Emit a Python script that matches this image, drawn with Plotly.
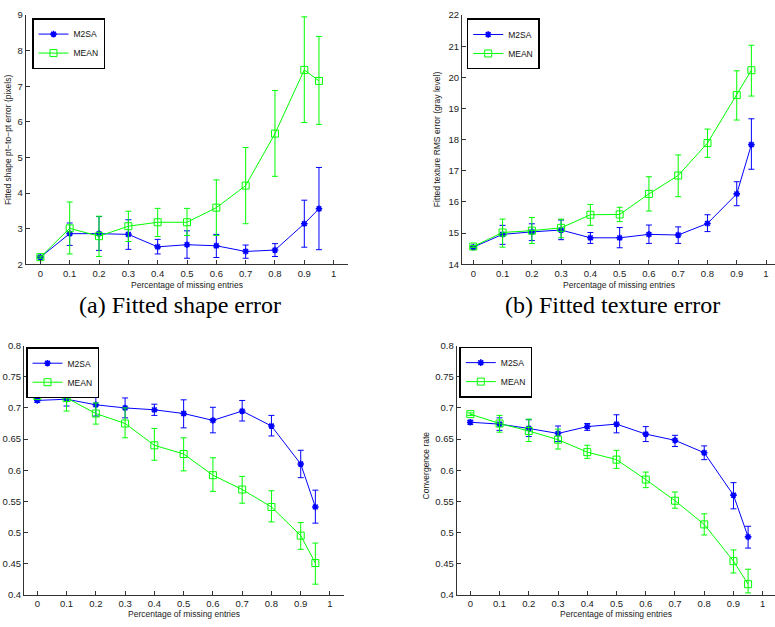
import plotly.graph_objects as go

W, H = 775, 627

x_vals = [0, 0.1, 0.2, 0.3, 0.4, 0.5, 0.6, 0.7, 0.8, 0.9, 0.95]

# (a) Fitted shape error
a_m2sa = [2.20, 2.86, 2.86, 2.84, 2.49, 2.55, 2.52, 2.36, 2.40, 3.14, 3.56]
a_m2sa_hi = [2.23, 3.16, 3.34, 3.25, 2.70, 2.94, 2.84, 2.54, 2.58, 3.80, 4.72]
a_m2sa_lo = [2.17, 2.53, 2.39, 2.42, 2.29, 2.17, 2.19, 2.17, 2.22, 2.48, 2.41]
a_mean = [2.20, 3.01, 2.79, 3.07, 3.18, 3.18, 3.59, 4.21, 5.67, 7.46, 7.15]
a_mean_hi = [2.23, 3.75, 3.35, 3.49, 3.57, 3.57, 4.37, 5.28, 6.88, 8.95, 8.40]
a_mean_lo = [2.17, 2.29, 2.22, 2.64, 2.78, 2.81, 2.81, 3.14, 4.47, 5.98, 5.93]

# (b) Fitted texture error
b_m2sa = [14.55, 14.96, 15.04, 15.10, 14.85, 14.85, 14.96, 14.94, 15.31, 16.26, 17.84]
b_m2sa_hi = [14.58, 15.25, 15.30, 15.42, 15.02, 15.18, 15.26, 15.20, 15.59, 16.65, 18.67]
b_m2sa_lo = [14.52, 14.64, 14.76, 14.79, 14.67, 14.53, 14.67, 14.67, 15.05, 15.88, 17.05]
b_mean = [14.57, 15.02, 15.08, 15.17, 15.59, 15.60, 16.26, 16.85, 17.89, 19.43, 20.23]
b_mean_hi = [14.60, 15.45, 15.50, 15.45, 15.92, 15.83, 16.81, 17.51, 18.34, 20.21, 21.03]
b_mean_lo = [14.54, 14.55, 14.67, 14.85, 15.25, 15.37, 15.71, 16.17, 17.43, 18.63, 19.40]

# (c) third panel (no y title)
c_m2sa = [0.712, 0.714, 0.705, 0.700, 0.697, 0.691, 0.680, 0.695, 0.671, 0.610, 0.541]
c_m2sa_hi = [0.715, 0.724, 0.725, 0.716, 0.706, 0.713, 0.701, 0.712, 0.688, 0.632, 0.568]
c_m2sa_lo = [0.709, 0.703, 0.687, 0.684, 0.688, 0.668, 0.660, 0.679, 0.655, 0.588, 0.515]
c_mean = [0.719, 0.716, 0.691, 0.675, 0.640, 0.626, 0.592, 0.569, 0.541, 0.495, 0.451]
c_mean_hi = [0.721, 0.734, 0.708, 0.700, 0.667, 0.652, 0.620, 0.590, 0.567, 0.516, 0.483]
c_mean_lo = [0.717, 0.695, 0.674, 0.652, 0.616, 0.599, 0.566, 0.547, 0.517, 0.473, 0.417]

# (d) Convergence rate
d_m2sa = [0.677, 0.674, 0.667, 0.659, 0.670, 0.674, 0.658, 0.648, 0.628, 0.560, 0.493]
d_m2sa_hi = [0.680, 0.684, 0.681, 0.671, 0.675, 0.689, 0.670, 0.656, 0.639, 0.580, 0.510]
d_m2sa_lo = [0.674, 0.664, 0.654, 0.646, 0.664, 0.660, 0.646, 0.638, 0.617, 0.538, 0.475]
d_mean = [0.690, 0.675, 0.663, 0.649, 0.629, 0.617, 0.585, 0.551, 0.513, 0.454, 0.417]
d_mean_hi = [0.692, 0.688, 0.682, 0.666, 0.640, 0.632, 0.597, 0.565, 0.530, 0.472, 0.441]
d_mean_lo = [0.688, 0.661, 0.646, 0.634, 0.619, 0.603, 0.572, 0.539, 0.496, 0.435, 0.403]

names = ["M2SA", "MEAN"]
colors = ["#0000ff", "#00ff00"]
x_title = "Percentage of missing entries"
x_ticks = [0, 0.1, 0.2, 0.3, 0.4, 0.5, 0.6, 0.7, 0.8, 0.9, 1]
x_ticklabels = ["0", "0.1", "0.2", "0.3", "0.4", "0.5", "0.6", "0.7", "0.8", "0.9", "1"]

panels = [
    dict(px=(25.7, 348.3), py=(9.2, 262.9), xr=[-0.05, 1.05], yr=[2, 9],
         yt=[2, 3, 4, 5, 6, 7, 8, 9], ytl=["2", "3", "4", "5", "6", "7", "8", "9"],
         data=[(a_m2sa, a_m2sa_hi, a_m2sa_lo), (a_mean, a_mean_hi, a_mean_lo)],
         ytitle="Fitted shape pt\u2212to\u2212pt error (pixels)", ytx=7.5, yty=136,
         xtitle_y=284, leg=(32, 12.3)),
    dict(px=(462, 775), py=(9.2, 262.9), xr=[-0.0386, 1.0307], yr=[14, 22],
         yt=list(range(14, 23)), ytl=[str(v) for v in range(14, 23)],
         data=[(b_m2sa, b_m2sa_hi, b_m2sa_lo), (b_mean, b_mean_hi, b_mean_lo)],
         ytitle="Fitted texture RMS error (gray level)", ytx=436.7, yty=136,
         xtitle_y=284, leg=(466.7, 12.7)),
    dict(px=(24, 344.3), py=(345.7, 599.3), xr=[-0.0454, 1.0489], yr=[0.4, 0.8],
         yt=[0.4, 0.45, 0.5, 0.55, 0.6, 0.65, 0.7, 0.75, 0.8],
         ytl=["0.4", "0.45", "0.5", "0.55", "0.6", "0.65", "0.7", "0.75", "0.8"],
         data=[(c_m2sa, c_m2sa_hi, c_m2sa_lo), (c_mean, c_mean_hi, c_mean_lo)],
         ytitle=None, ytx=None, yty=None,
         xtitle_y=619, leg=(26, 347.3)),
    dict(px=(456.7, 775), py=(345.7, 599.3), xr=[-0.0465, 1.042], yr=[0.4, 0.8],
         yt=[0.4, 0.45, 0.5, 0.55, 0.6, 0.65, 0.7, 0.75, 0.8],
         ytl=["0.4", "0.45", "0.5", "0.55", "0.6", "0.65", "0.7", "0.75", "0.8"],
         data=[(d_m2sa, d_m2sa_hi, d_m2sa_lo), (d_mean, d_mean_hi, d_mean_lo)],
         ytitle="Convergence rate", ytx=425.7, yty=468,
         xtitle_y=619, leg=(459.3, 346.7)),
]

captions = [("(a) Fitted shape error", 180, 304), ("(b) Fitted texture error", 612, 304)]

fig = go.Figure()
layout = dict(width=W, height=H, margin=dict(l=0, r=0, t=0, b=0),
              paper_bgcolor="white", plot_bgcolor="white", showlegend=True,
              font=dict(family="Liberation Sans, Arial, sans-serif", size=9.5, color="#222"))
annotations = []
tick_font = dict(family="Liberation Sans, Arial, sans-serif", size=9.5, color="#222")

for i, p in enumerate(panels):
    k = "" if i == 0 else str(i + 1)
    xa, ya = "x" + k, "y" + k
    legname = "legend" + k
    for j in range(2):
        yv, hi, lo = p["data"][j]
        plus = [h - v for h, v in zip(hi, yv)]
        minus = [v - l for v, l in zip(yv, lo)]
        if j == 0:
            marker = dict(symbol="asterisk-open", size=5.5, color=colors[j],
                          line=dict(color=colors[j], width=1.6))
        else:
            marker = dict(symbol="square-open", size=7, color=colors[j],
                          line=dict(color=colors[j], width=1))
        fig.add_trace(go.Scatter(
            x=x_vals, y=yv, mode="lines+markers", name=names[j],
            line=dict(color=colors[j], width=1), marker=marker,
            error_y=dict(type="data", symmetric=False, array=plus, arrayminus=minus,
                         color=colors[j], thickness=1, width=3),
            xaxis=xa, yaxis=ya, legend=legname, showlegend=True))
    axcommon = dict(showline=True, linecolor="#333", linewidth=1, ticks="inside",
                    ticklen=4, tickcolor="#333", showgrid=False, zeroline=False,
                    tickfont=tick_font)
    layout["xaxis" + k] = dict(domain=[p["px"][0] / W, p["px"][1] / W], range=p["xr"],
                               anchor=ya, tickvals=x_ticks, ticktext=x_ticklabels,
                               **axcommon)
    layout["yaxis" + k] = dict(domain=[1 - p["py"][1] / H, 1 - p["py"][0] / H],
                               range=p["yr"], anchor=xa, tickvals=p["yt"],
                               ticktext=p["ytl"], **axcommon)
    layout[legname] = dict(x=p["leg"][0] / W, y=1 - p["leg"][1] / H,
                           xanchor="left", yanchor="top", bgcolor="white",
                           bordercolor="black", borderwidth=1.5,
                           font=dict(family="Liberation Sans, Arial, sans-serif",
                                     size=8.5, color="#111"),
                           itemwidth=30, tracegroupgap=0)
    cx = (p["px"][0] + min(p["px"][1], 775)) / 2
    annotations.append(dict(text=x_title, xref="paper", yref="paper",
                            x=cx / W, y=1 - p["xtitle_y"] / H, showarrow=False,
                            xanchor="center", yanchor="middle",
                            font=dict(family="Liberation Sans, Arial, sans-serif",
                                      size=8.5, color="#222")))
    if p["ytitle"]:
        annotations.append(dict(text=p["ytitle"], xref="paper", yref="paper",
                                x=p["ytx"] / W, y=1 - p["yty"] / H, showarrow=False,
                                textangle=-90, xanchor="center", yanchor="middle",
                                font=dict(family="Liberation Sans, Arial, sans-serif",
                                          size=8.5, color="#222")))

for txt, cx, cy in captions:
    annotations.append(dict(text=txt, xref="paper", yref="paper", x=cx / W,
                            y=1 - cy / H, showarrow=False, xanchor="center",
                            yanchor="middle",
                            font=dict(family="Liberation Serif, Times New Roman, serif",
                                      size=24, color="black")))

layout["annotations"] = annotations
fig.update_layout(**layout)
fig.write_html("out.html")
